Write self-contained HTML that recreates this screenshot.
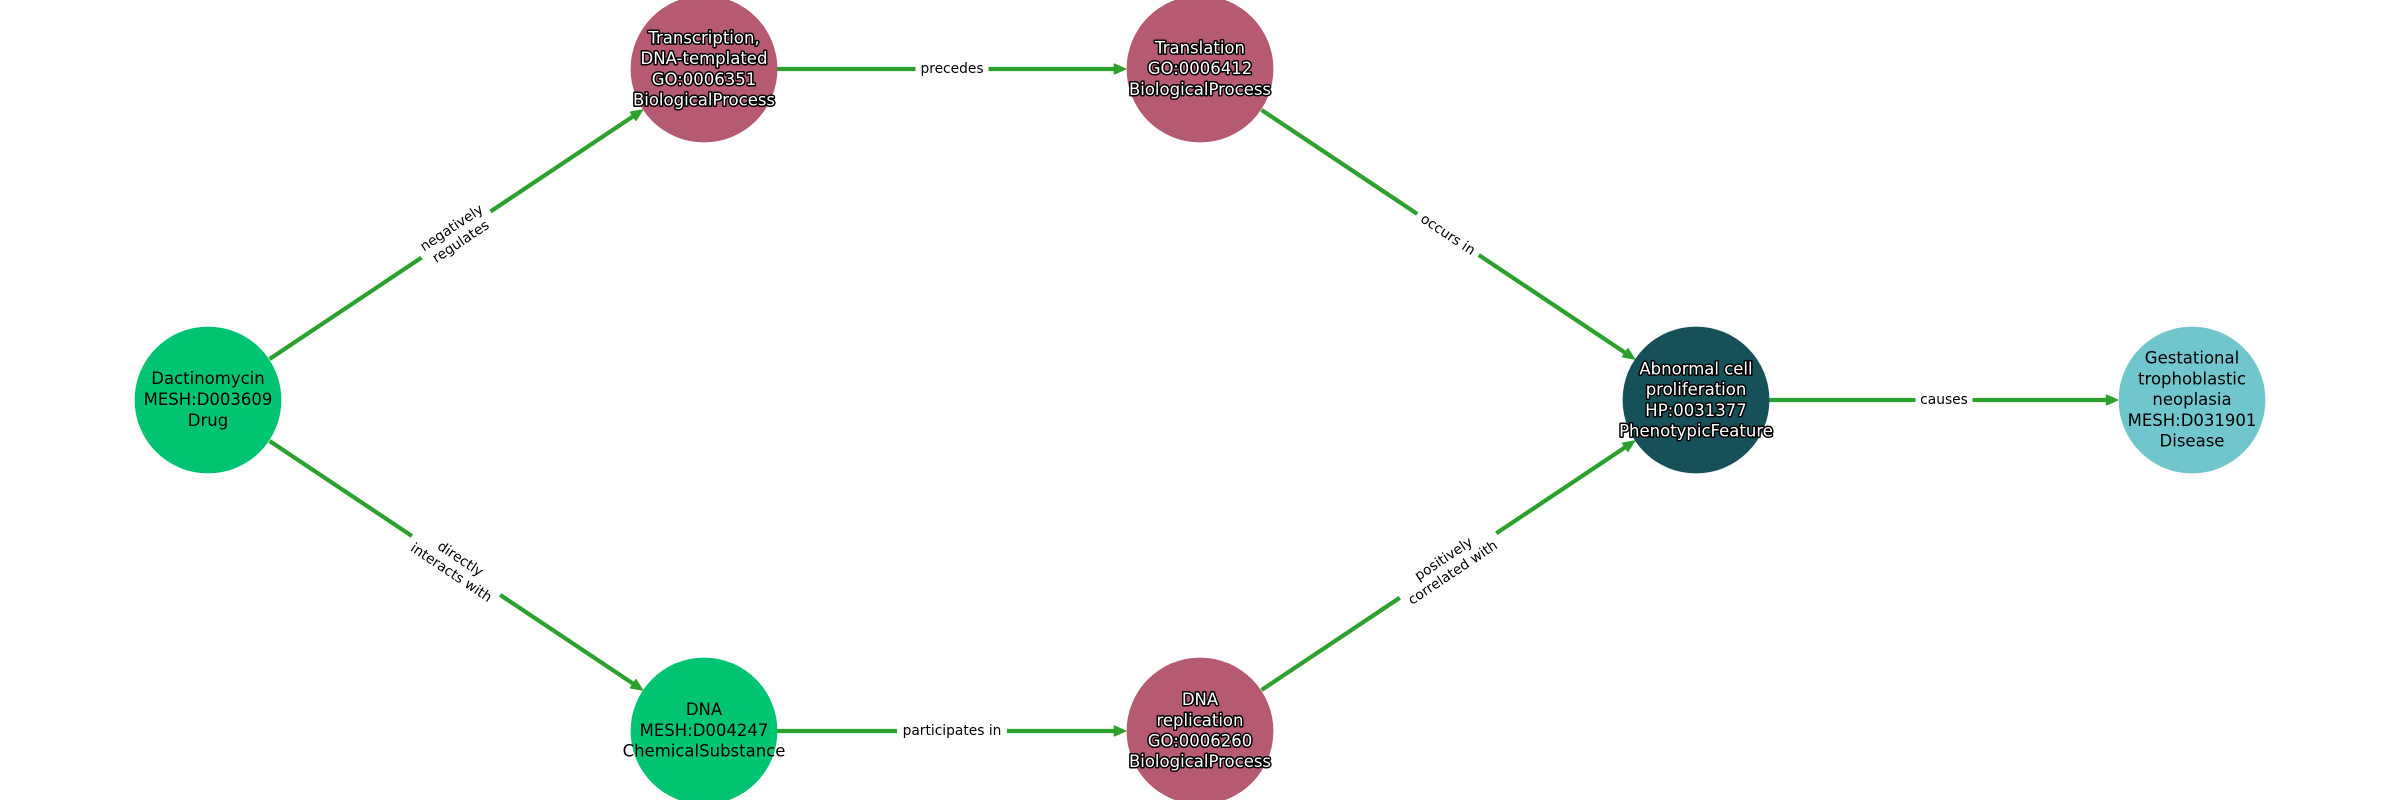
<!DOCTYPE html>
<html><head><meta charset="utf-8"><style>
html,body{margin:0;padding:0;background:#fff;width:2400px;height:800px;overflow:hidden}
svg{display:block}
text{font-family:"DejaVu Sans",sans-serif;text-anchor:middle}
.n{font-size:16.5px;fill:#000}
.w{font-size:16.5px;fill:#fff;stroke:#000;stroke-width:3px;paint-order:stroke;stroke-linejoin:round}
.e{font-size:13.8px;fill:#000}
.l{stroke:#2ca02c;stroke-width:4.2;fill:none}
.a{fill:#2ca02c;stroke:#2ca02c;stroke-width:1.5;stroke-linejoin:round}
</style></head><body>
<svg width="2400" height="800" viewBox="0 0 2400 800" xmlns="http://www.w3.org/2000/svg">
<rect width="2400" height="800" fill="#fff"/>
<g class="l">
<line x1="269.6" y1="359" x2="636" y2="114.4"/>
<line x1="269.6" y1="441" x2="636" y2="685.6"/>
<line x1="777" y1="69" x2="1118" y2="69"/>
<line x1="777" y1="731" x2="1118" y2="731"/>
<line x1="1261.6" y1="110" x2="1628" y2="354.6"/>
<line x1="1261.6" y1="690" x2="1628" y2="445.4"/>
<line x1="1769" y1="400" x2="2110" y2="400"/>
</g>
<g class="a">
<polygon transform="translate(642.4,110.1) rotate(-33.7)" points="0,0 -11,-4.8 -11,4.8"/>
<polygon transform="translate(642.4,689.9) rotate(33.7)" points="0,0 -11,-4.8 -11,4.8"/>
<polygon transform="translate(1125.5,69)" points="0,0 -11,-4.8 -11,4.8"/>
<polygon transform="translate(1125.5,731)" points="0,0 -11,-4.8 -11,4.8"/>
<polygon transform="translate(1634.4,358.9) rotate(33.7)" points="0,0 -11,-4.8 -11,4.8"/>
<polygon transform="translate(1634.4,441.1) rotate(-33.7)" points="0,0 -11,-4.8 -11,4.8"/>
<polygon transform="translate(2117.5,400)" points="0,0 -11,-4.8 -11,4.8"/>
</g>
<g transform="translate(456,234.5) rotate(-33.7)"><rect x="-41.5" y="-22" width="83" height="44" fill="#fff"/><text class="e" y="-3.5">negatively</text><text class="e" y="13">regulates</text></g>
<g transform="translate(456,565.5) rotate(33.7)"><rect x="-53" y="-22" width="106" height="44" fill="#fff"/><text class="e" y="-3.5">directly</text><text class="e" y="13">interacts with</text></g>
<g transform="translate(952,69)"><rect x="-36.5" y="-12" width="73" height="24" fill="#fff"/><text class="e" y="4">precedes</text></g>
<g transform="translate(952,731)"><rect x="-55" y="-12" width="110" height="24" fill="#fff"/><text class="e" y="4">participates in</text></g>
<g transform="translate(1448,234.5) rotate(33.7)"><rect x="-37" y="-13" width="74" height="26" fill="#fff"/><text class="e" y="4.5">occurs in</text></g>
<g transform="translate(1448,565.5) rotate(-33.7)"><rect x="-58" y="-22" width="116" height="44" fill="#fff"/><text class="e" y="-3.5">positively</text><text class="e" y="13">correlated with</text></g>
<g transform="translate(1944,400)"><rect x="-28.5" y="-12" width="57" height="24" fill="#fff"/><text class="e" y="4">causes</text></g>
<circle cx="208" cy="400" r="73.4" fill="#00c472"/>
<circle cx="704" cy="731" r="73.4" fill="#00c472"/>
<circle cx="704" cy="69" r="73.4" fill="#b55a70"/>
<circle cx="1200" cy="69" r="73.4" fill="#b55a70"/>
<circle cx="1200" cy="731" r="73.4" fill="#b55a70"/>
<circle cx="1696" cy="400" r="73.4" fill="#165058"/>
<circle cx="2192" cy="400" r="73.4" fill="#70c6cc"/>
<text class="n" x="208" y="384">Dactinomycin</text>
<text class="n" x="208" y="405">MESH:D003609</text>
<text class="n" x="208" y="426">Drug</text>
<text class="n" x="704" y="715">DNA</text>
<text class="n" x="704" y="736">MESH:D004247</text>
<text class="n" x="704" y="756.5">ChemicalSubstance</text>
<text class="w" x="704" y="43.3">Transcription,</text>
<text class="w" x="704" y="64">DNA-templated</text>
<text class="w" x="704" y="84.8">GO:0006351</text>
<text class="w" x="704" y="105.5">BiologicalProcess</text>
<text class="w" x="1200" y="53.3">Translation</text>
<text class="w" x="1200" y="74">GO:0006412</text>
<text class="w" x="1200" y="94.8">BiologicalProcess</text>
<text class="w" x="1200" y="705">DNA</text>
<text class="w" x="1200" y="726">replication</text>
<text class="w" x="1200" y="746.5">GO:0006260</text>
<text class="w" x="1200" y="767">BiologicalProcess</text>
<text class="w" x="1696" y="374.3">Abnormal cell</text>
<text class="w" x="1696" y="395">proliferation</text>
<text class="w" x="1696" y="415.8">HP:0031377</text>
<text class="w" x="1696" y="436.5">PhenotypicFeature</text>
<text class="n" x="2192" y="363.5">Gestational</text>
<text class="n" x="2192" y="384.5">trophoblastic</text>
<text class="n" x="2192" y="405">neoplasia</text>
<text class="n" x="2192" y="426">MESH:D031901</text>
<text class="n" x="2192" y="446.5">Disease</text>
</svg>
</body></html>
